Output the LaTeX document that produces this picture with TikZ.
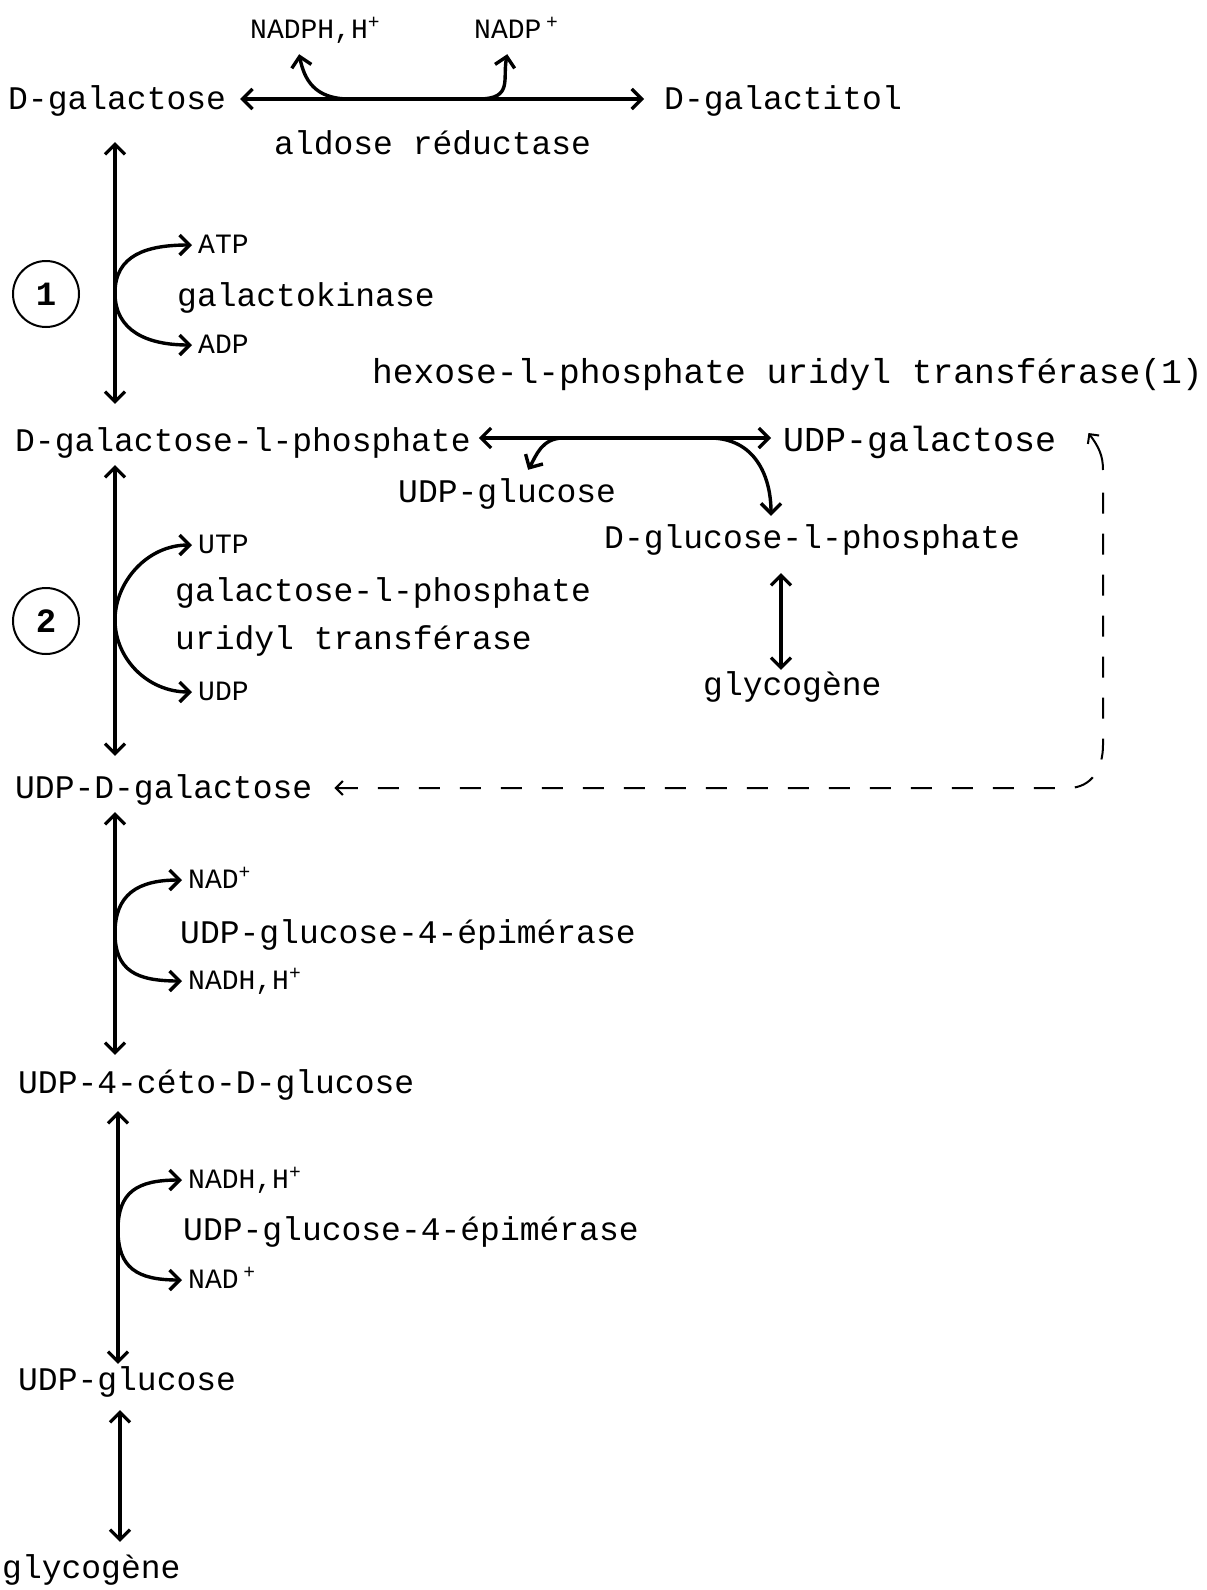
\documentclass[tikz,border=0pt]{standalone}
\usepackage{fontspec}
\setmainfont{Liberation Mono}
\usetikzlibrary{arrows.meta,calc}
\begin{document}
\begin{tikzpicture}[x=1pt,y=-1pt,
  big/.style={anchor=west,inner sep=0pt,font=\fontsize{33}{36}\selectfont,text height=20pt,text depth=0pt},
  sm/.style={anchor=west,inner sep=0pt,font=\fontsize{28}{30}\selectfont,text height=16pt,text depth=0pt},
  tip/.tip={Straight Barb[length=10pt,width=20pt]},
  stip/.tip={Straight Barb[length=7pt,width=14pt]},
  arr/.style={line width=3.4pt,-tip},
  dbl/.style={line width=3.2pt,tip-tip},
  dsh/.style={line width=2pt,dash pattern=on 21pt off 20pt,stip-},
  num/.style={circle,draw,line width=2pt,minimum size=66pt,inner sep=0pt,font=\fontsize{34}{36}\selectfont\bfseries}]
\useasboundingbox (0,0) rectangle (1207,1590);

% ---- nodes ----
\node[big] (dgal) at (8,99) {D-galactose};
\node[big] (galol) at (664,99) {D-galactitol};
\node[sm] (nadph) at (250,30) {NADPH,H\textsuperscript{+}};
\node[sm] (nadp) at (474,30) {NADP\,\textsuperscript{+}};
\node[big] (aldred) at (274,144) {aldose réductase};

\node[num] (c1) at (46,294) {1};
\node[sm] (atp) at (198,245) {ATP};
\node[big] (galk) at (177,296) {galactokinase};
\node[sm] (adp) at (198,345) {ADP};

\node[big,font=\fontsize{34.6}{36}\selectfont] (hex) at (372,373) {hexose-l-phosphate uridyl transférase(1)};
\node[big] (dgal1p) at (15,441) {D-galactose-l-phosphate};
\node[big,font=\fontsize{35}{36}\selectfont] (udpgal) at (783,441) {UDP-galactose};
\node[big] (udpglc) at (398,492) {UDP-glucose};
\node[big] (dglc1p) at (604,538) {D-glucose-l-phosphate};
\node[big] (glyco1) at (703,685) {glycogène};

\node[num] (c2) at (46,621) {2};
\node[sm] (utp) at (198,545) {UTP};
\node[big] (galt1) at (175,591) {galactose-l-phosphate};
\node[big] (galt2) at (175,639) {uridyl transférase};
\node[sm] (udp) at (198,692) {UDP};

\node[big] (udpdgal) at (15,788) {UDP-D-galactose};
\node[sm] (nad1) at (188,880) {NAD\textsuperscript{+}};
\node[big] (epi1) at (180,933) {UDP-glucose-4-épimérase};
\node[sm] (nadh1) at (188,981) {NADH,H\textsuperscript{+}};

\node[big] (ceto) at (18,1083) {UDP-4-céto-D-glucose};
\node[sm] (nadh2) at (188,1180) {NADH,H\textsuperscript{+}};
\node[big] (epi2) at (183,1230) {UDP-glucose-4-épimérase};
\node[sm] (nad2) at (188,1280) {NAD\,\textsuperscript{+}};

\node[big] (udpglc2) at (18,1380) {UDP-glucose};
\node[big] (glyco2) at (2,1568) {glycogène};

% ---- top reaction ----
\draw[dbl] ($(dgal.east)+(14,0)$) -- coordinate[pos=0.27] (t1) coordinate[pos=0.59] (t2) ($(galol.west)+(-20,0)$);
\draw[arr] (t1) .. controls +(-35,0) and +(5,25) .. ($(nadph.south)+(-16,16)$);
\draw[arr] (t2) .. controls +(35,0) and +(-5,25) .. ($(nadp.south)+(-9,16)$);

% ---- step 1 ----
\draw[dbl] ($(dgal.south west)+(107,33)$) -- coordinate[pos=0.576] (k1) ($(dgal1p.north west)+(100,-27)$);
\draw[arr] (k1) .. controls +(0,-38) and +(-45,0) .. ($(atp.west)+(-6,0)$);
\draw[arr] (k1) .. controls +(0,38) and +(-45,0) .. ($(adp.west)+(-6,0)$);

% ---- hexose transferase ----
\draw[dbl] ($(dgal1p.east)+(8,-3)$) -- coordinate[pos=0.29] (h1) coordinate[pos=0.79] (h2) ($(udpgal.west)+(-12,-3)$);
\draw[arr] (h1) .. controls +(-22,0) and +(8,-14) .. ($(udpglc.north)+(21,-12)$);
\draw[arr] (h2) .. controls +(45,0) and +(0,-40) .. ($(dglc1p.north west)+(167,-12)$);
\draw[dbl] ($(dglc1p.south west)+(177,25)$) -- ($(glyco1.north west)+(78,-5)$);

% ---- step 2 ----
\draw[dbl] ($(dgal1p.south west)+(100,14)$) -- coordinate[pos=0.533] (k2) ($(udpdgal.north west)+(100,-22)$);
\draw[arr] (k2) .. controls +(0,-38) and +(-45,0) .. ($(utp.west)+(-6,0)$);
\draw[arr] (k2) .. controls +(0,38) and +(-45,0) .. ($(udp.west)+(-6,0)$);

% ---- dashed return ----
\draw[dsh] ($(udpdgal.east)+(22,0)$) -- (1068,788) .. controls (1092,788) and (1103,768) .. (1103,745) -- (1103,490);
\draw[line width=2pt,-stip] (1103,470) .. controls (1103,456) and (1099,447) .. ($(udpgal.east)+(32,-8)$);

% ---- epimerase 1 ----
\draw[dbl] ($(udpdgal.south west)+(100,14)$) -- coordinate[pos=0.498] (k3) ($(ceto.north west)+(97,-18)$);
\draw[arr] (k3) .. controls +(0,-38) and +(-45,0) .. ($(nad1.west)+(-6,0)$);
\draw[arr] (k3) .. controls +(0,38) and +(-45,0) .. ($(nadh1.west)+(-6,0)$);

% ---- epimerase 2 ----
\draw[dbl] ($(ceto.south west)+(100,18)$) -- coordinate[pos=0.47] (k4) ($(udpglc2.north west)+(100,-6)$);
\draw[arr] (k4) .. controls +(0,-38) and +(-45,0) .. ($(nadh2.west)+(-6,0)$);
\draw[arr] (k4) .. controls +(0,38) and +(-45,0) .. ($(nad2.west)+(-6,0)$);

% ---- glycogen ----
\draw[dbl] ($(udpglc2.south west)+(102,20)$) -- ($(glyco2.north west)+(118,-16)$);
\end{tikzpicture}
\end{document}
